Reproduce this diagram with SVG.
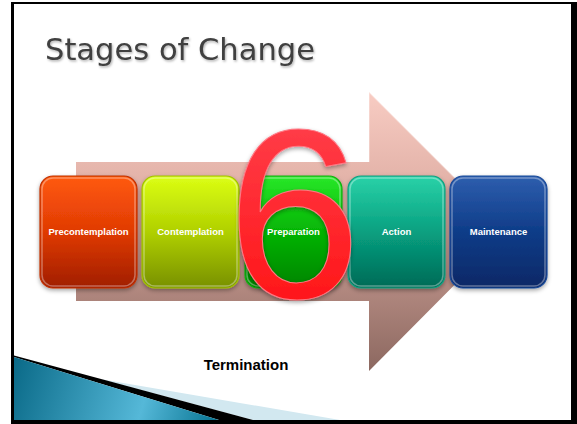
<svg xmlns="http://www.w3.org/2000/svg" width="577" height="424" viewBox="0 0 577 424">
  <defs>
    <linearGradient id="gArrow" x1="0" y1="92" x2="0" y2="371" gradientUnits="userSpaceOnUse">
      <stop offset="0" stop-color="#f8ccc3"/>
      <stop offset="0.3" stop-color="#e4b4aa"/>
      <stop offset="1" stop-color="#8c6860"/>
    </linearGradient>
    <linearGradient id="gTeal" x1="14" y1="360" x2="215" y2="420" gradientUnits="userSpaceOnUse">
      <stop offset="0" stop-color="#0a6a88"/>
      <stop offset="0.65" stop-color="#55b8d8"/>
      <stop offset="1" stop-color="#0a7694"/>
    </linearGradient>
    <linearGradient id="g1" x1="0" y1="0" x2="0" y2="1">
      <stop offset="0" stop-color="#ff5a0c"/>
      <stop offset="0.5" stop-color="#e03a04"/>
      <stop offset="1" stop-color="#a01e00"/>
    </linearGradient>
    <linearGradient id="g2" x1="0" y1="0" x2="0" y2="1">
      <stop offset="0" stop-color="#dcff14"/>
      <stop offset="0.5" stop-color="#b0d000"/>
      <stop offset="1" stop-color="#789000"/>
    </linearGradient>
    <linearGradient id="g3" x1="0" y1="0" x2="0" y2="1">
      <stop offset="0" stop-color="#28e828"/>
      <stop offset="0.5" stop-color="#04b404"/>
      <stop offset="1" stop-color="#008400"/>
    </linearGradient>
    <linearGradient id="g4" x1="0" y1="0" x2="0" y2="1">
      <stop offset="0" stop-color="#2ad2a8"/>
      <stop offset="0.5" stop-color="#08a080"/>
      <stop offset="1" stop-color="#006a56"/>
    </linearGradient>
    <linearGradient id="g5" x1="0" y1="0" x2="0" y2="1">
      <stop offset="0" stop-color="#2e5eae"/>
      <stop offset="0.5" stop-color="#0e3c88"/>
      <stop offset="1" stop-color="#082866"/>
    </linearGradient>
    <linearGradient id="gSix" x1="0" y1="0" x2="0" y2="1">
      <stop offset="0" stop-color="#ff4654"/>
      <stop offset="1" stop-color="#ff0c0c"/>
    </linearGradient>
    <filter id="shadow" x="-10%" y="-10%" width="120%" height="130%">
      <feDropShadow dx="0" dy="2" stdDeviation="2" flood-color="#000" flood-opacity="0.35"/>
    </filter>
    <filter id="tshadow" x="-5%" y="-20%" width="110%" height="150%">
      <feDropShadow dx="1" dy="1.5" stdDeviation="1" flood-color="#000" flood-opacity="0.3"/>
    </filter>
  </defs>
  <style>
    .box { stroke-width: 1.2; }
    .hl { fill: none; stroke: #ffffff; stroke-opacity: 0.35; stroke-width: 1.5; }
    .lbl { font-family: "Liberation Sans", Arial, sans-serif; font-weight: bold; font-size: 9.5px; fill: #ffffff; text-anchor: middle; }
  </style>

  <!-- slide frame -->
  <rect x="11" y="2" width="566" height="422" fill="#000000"/>
  <rect x="14" y="4" width="557" height="416" fill="#ffffff"/>

  <!-- title -->
  <text x="45" y="60" font-family="DejaVu Sans, Verdana, sans-serif" font-size="30" fill="#404040" textLength="270" lengthAdjust="spacingAndGlyphs" filter="url(#tshadow)">Stages of Change</text>

  <!-- bottom-left decoration -->
  <polygon points="100,379 340,420 253,420" fill="#d2e8f0"/>
  <polygon points="14,355.5 253,420 219,420 14,357" fill="#000000"/>
  <polygon points="14,357 219,420 14,420" fill="url(#gTeal)"/>

  <!-- big arrow -->
  <g id="arrow">
    <polygon points="76,162 369,162 369,92 508,231 369,371 369,301 76,301" fill="url(#gArrow)"/>
    <polyline points="369,162 369,92 508,231" fill="none" stroke="#ffffff" stroke-opacity="0.35" stroke-width="1.5"/>
  </g>

  <!-- stage boxes -->
  <g id="precontemplation">
    <rect class="box" x="40" y="176" width="97" height="112" rx="13" fill="url(#g1)" stroke="#c03000" filter="url(#shadow)"/>
    <rect class="hl" x="42" y="178" width="93" height="108" rx="11"/>
    <text class="lbl" x="88.5" y="234.5">Precontemplation</text>
  </g>
  <g id="contemplation">
    <rect class="box" x="142" y="176" width="97" height="112" rx="13" fill="url(#g2)" stroke="#a0c000" filter="url(#shadow)"/>
    <rect class="hl" x="144" y="178" width="93" height="108" rx="11"/>
    <text class="lbl" x="190.5" y="234.5">Contemplation</text>
  </g>
  <g id="preparation">
    <rect class="box" x="245" y="176" width="97" height="112" rx="13" fill="url(#g3)" stroke="#10b010" filter="url(#shadow)"/>
    <rect class="hl" x="247" y="178" width="93" height="108" rx="11"/>
    <text class="lbl" x="293.5" y="234.5">Preparation</text>
  </g>
  <g id="action">
    <rect class="box" x="348" y="176" width="97" height="112" rx="13" fill="url(#g4)" stroke="#10a080" filter="url(#shadow)"/>
    <rect class="hl" x="350" y="178" width="93" height="108" rx="11"/>
    <text class="lbl" x="396.5" y="234.5">Action</text>
  </g>
  <g id="maintenance">
    <rect class="box" x="450" y="176" width="97" height="112" rx="13" fill="url(#g5)" stroke="#1a4a9a" filter="url(#shadow)"/>
    <rect class="hl" x="452" y="178" width="93" height="108" rx="11"/>
    <text class="lbl" x="498.5" y="234.5">Maintenance</text>
  </g>

  <!-- big six -->
  <g id="six">
    <text x="294" y="298" font-family="Liberation Sans, Arial, sans-serif" font-size="242" fill="url(#gSix)" stroke="#ff7a86" stroke-width="1" text-anchor="middle" filter="url(#shadow)">6</text>
  </g>

  <!-- termination -->
  <g id="termination">
    <text x="246" y="370" font-family="Liberation Sans, Arial, sans-serif" font-weight="bold" font-size="15" fill="#000000" text-anchor="middle">Termination</text>
  </g>
</svg>
